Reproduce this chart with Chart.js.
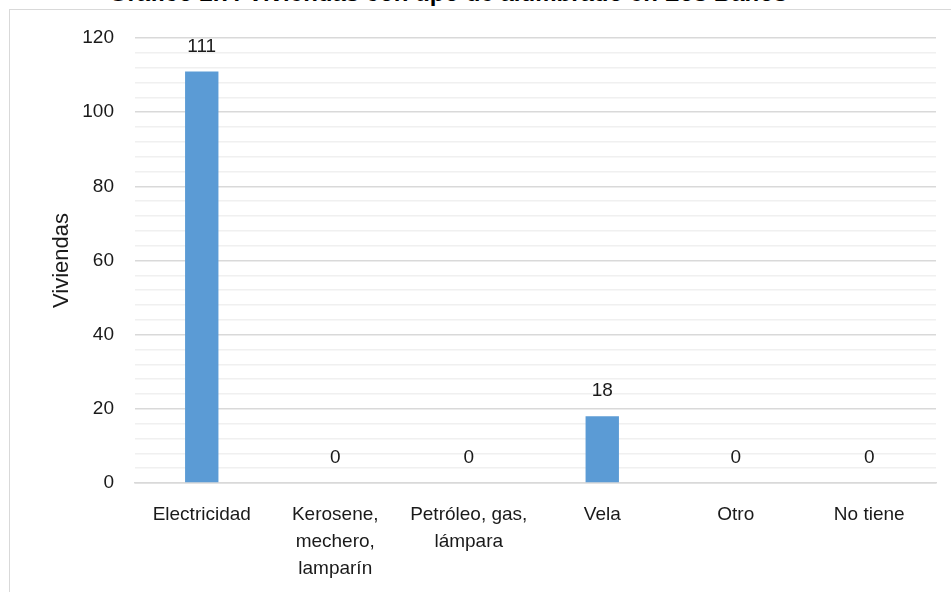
<!DOCTYPE html>
<html>
<head>
<meta charset="utf-8">
<script src="https://cdn.jsdelivr.net/npm/chart.js@4.4.1/dist/chart.umd.min.js"></script>
<style>
  body { margin: 0; background: #fff; overflow: hidden; }
  #wrap { position: relative; width: 951px; height: 592px; overflow: hidden; }
  #frame { position: absolute; left: 9px; top: 9px; width: 1000px; height: 700px; border: 1px solid #d9d9d9; }
  #title { position: absolute; left: 0; top: -19px; width: 896px; text-align: center;
           font: bold 24px "Liberation Sans", Arial, sans-serif; line-height: 24px; color: #000; white-space: nowrap; }
  canvas { position: absolute; left: 0; top: 0; }
</style>
</head>
<body>
<div id="wrap">
  <div id="frame"></div>
  <div id="title">Gráfico 2.7: Viviendas con tipo de alumbrado en Los Baños</div>
  <canvas id="chart" width="951" height="592"></canvas>
</div>
<script>
// data
const categories = [
  "Electricidad",
  ["Kerosene,", "mechero,", "lamparín"],
  ["Petróleo, gas,", "lámpara"],
  "Vela",
  "Otro",
  "No tiene"
];
const viviendas = [111, 0, 0, 18, 0, 0];
const yTicks = [0, 20, 40, 60, 80, 100, 120];

const fontFamily = '"Liberation Sans Narrow", "Arial Narrow", "Liberation Sans", sans-serif';
const textColor = "#1a1a1a";

// value labels above the bars
const barLabels = {
  id: "barLabels",
  afterDatasetsDraw(chart) {
    const ctx = chart.ctx;
    const meta = chart.getDatasetMeta(0);
    ctx.save();
    ctx.font = "19px " + fontFamily;
    ctx.fillStyle = textColor;
    ctx.textAlign = "center";
    ctx.textBaseline = "middle";
    meta.data.forEach((bar, i) => {
      ctx.fillText(String(viviendas[i]), bar.x, bar.y - 25);
    });
    ctx.restore();
  }
};

new Chart(document.getElementById("chart"), {
  type: "bar",
  data: {
    labels: categories,
    datasets: [{
      label: "Viviendas",
      data: viviendas,
      backgroundColor: "#5b9bd5",
      barPercentage: 0.25,
      categoryPercentage: 1
    }]
  },
  options: {
    responsive: false,
    animation: false,
    layout: { padding: { top: 38, right: 15, left: 0, bottom: 0 } },
    plugins: {
      legend: { display: false },
      tooltip: { enabled: false }
    },
    scales: {
      x: {
        grid: { display: false, drawTicks: false },
        border: { color: "#d9d9d9", width: 1.5 },
        ticks: {
          color: textColor,
          padding: 18,
          maxRotation: 0,
          autoSkip: false,
          font: { family: fontFamily, size: 19, lineHeight: 1.42 }
        },
        afterFit(scale) { scale.height = 592 - 483; }
      },
      y: {
        min: yTicks[0],
        max: yTicks[yTicks.length - 1],
        border: { display: false },
        grid: {
          drawTicks: false,
          color: ctx => (yTicks.includes(ctx.tick.value) ? "#d9d9d9" : "#f0f0f0"),
          lineWidth: 1.5
        },
        ticks: {
          stepSize: 4,
          autoSkip: false,
          padding: 21,
          color: textColor,
          font: { family: fontFamily, size: 19 },
          callback: v => (yTicks.includes(v) ? v : "")
        },
        title: {
          display: true,
          text: "Viviendas",
          color: textColor,
          padding: { top: 49, bottom: 0 },
          font: { family: fontFamily, size: 22 }
        },
        afterFit(scale) { scale.width = 135; }
      }
    }
  },
  plugins: [barLabels]
});
</script>
</body>
</html>
